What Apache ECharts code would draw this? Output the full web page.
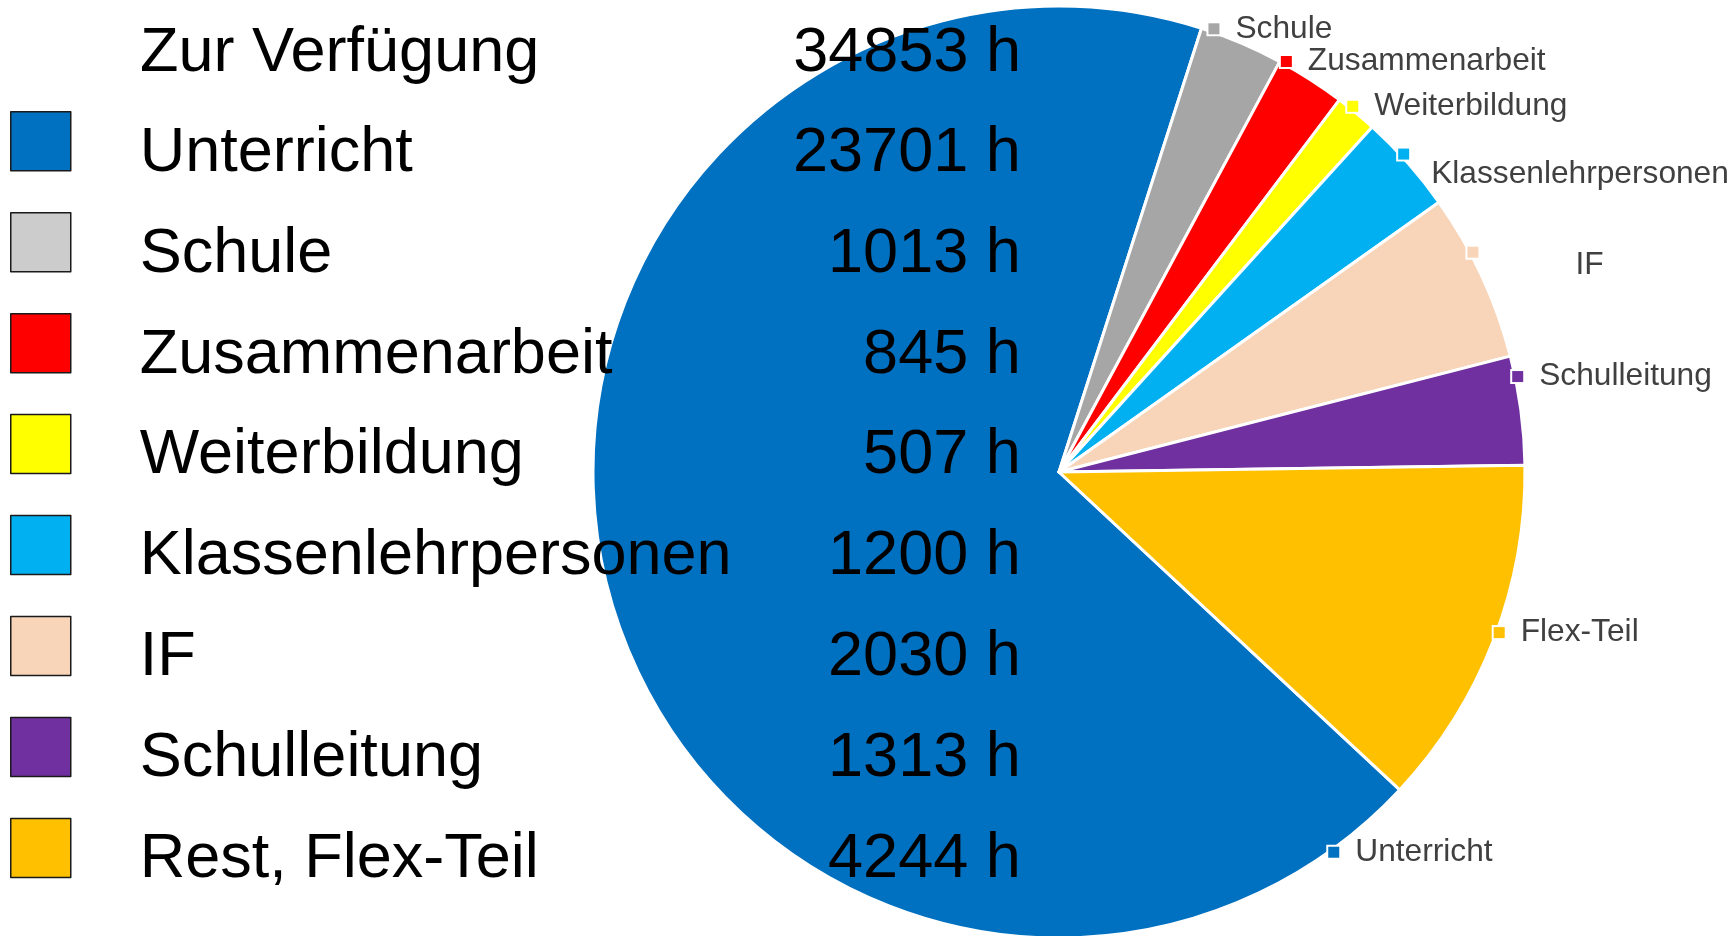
<!DOCTYPE html>
<html>
<head>
<meta charset="utf-8">
<script src="https://cdn.jsdelivr.net/npm/echarts@6/dist/echarts.min.js"></script>
<style>
  html, body { margin: 0; padding: 0; background: #fff; }
  #chart { width: 1733px; height: 936px; }
</style>
</head>
<body>
<div id="chart"></div>
<script>
  // Legendennamen und Stunden
  const categories = ['Unterricht', 'Schule', 'Zusammenarbeit', 'Weiterbildung', 'Klassenlehrpersonen', 'IF', 'Schulleitung', 'Rest, Flex-Teil'];
  const hours = [23701, 1013, 845, 507, 1200, 2030, 1313, 4244];
  // Beschriftungen am Kuchen
  const labelNames = ['Unterricht', 'Schule', 'Zusammenarbeit', 'Weiterbildung', 'Klassenlehrpersonen', 'IF', 'Schulleitung', 'Flex-Teil'];
  const headerName = 'Zur Verfügung';

  const sliceColors = ['#0070C0', '#A6A6A6', '#FF0000', '#FFFF00', '#00B0F0', '#F8D5B8', '#7030A0', '#FFC000'];
  const legendColors = ['#0070C0', '#CCCCCC', '#FF0000', '#FFFF00', '#00B0F0', '#F8D5B8', '#7030A0', '#FFC000'];

  // Lage der Beschriftungen wie im Original (Drehung in Grad, Abstand, Absenkung in px)
  const labelTurn = [0, -3.6, -3.5, -0.7, -1.0, -3, -4.1, -1.1];
  const labelGap = [16, 16, 16, 16, 22, 97, 16, 16];
  const labelDrop = [0, 0, 0, 0, 20, 13, 0, 0];

  const total = hours.reduce((a, b) => a + b, 0);
  const font = '"Liberation Sans", Arial, sans-serif';
  const center = [1059, 472];
  const radius = 466;
  const startAngle = -43;   // echarts: Grad ab 3 Uhr, gegen den Uhrzeigersinn

  let rich = {};
  sliceColors.forEach((c, i) => {
    rich['m' + i] = { width: 11, height: 11, backgroundColor: c, borderColor: '#fff', borderWidth: 2 };
    rich['t' + i] = {
      color: '#404040', fontSize: 31.7, fontFamily: font,
      padding: [labelDrop[i] * 2, 0, 0, labelGap[i]]
    };
  });

  const legendRich = {
    pad: { width: 64 },
    n: { width: 600, fontSize: 63, fontFamily: font, fontWeight: 'normal', color: '#000', lineHeight: 60 },
    v: { width: 281, fontSize: 63, fontFamily: font, fontWeight: 'normal', color: '#000', lineHeight: 60, align: 'right' }
  };

  // Winkel (Uhr, Grad) der Sektormitte
  function midClock(idx) {
    let before = 0;
    for (let k = 0; k < idx; k++) before += hours[k];
    return 90 - startAngle + (before + hours[idx] / 2) / total * 360;
  }

  let myChart = echarts.init(document.getElementById('chart'));
  let option = {
    backgroundColor: '#fff',
    animation: false,
    title: {
      text: '{n|' + headerName + '}{v|' + total + ' h}',
      left: 140,
      top: 24,
      padding: 0,
      textStyle: { rich: legendRich }
    },
    legend: {
      orient: 'vertical',
      left: 10,
      top: 111,
      padding: 0,
      itemWidth: 60,
      itemHeight: 59,
      itemGap: 27.2,
      selectedMode: false,
      icon: 'rect',
      itemStyle: { borderColor: '#1a1a1a', borderWidth: 1.5 },
      data: categories.map((name, i) => ({
        name: name,
        itemStyle: { color: legendColors[i] }
      })),
      formatter: function (name) {
        let i = categories.indexOf(name);
        return '{pad|}{n|' + name + '}{v|' + hours[i] + ' h}';
      },
      textStyle: { rich: legendRich, padding: [24, 0, 0, 0] }
    },
    series: [{
      type: 'pie',
      center: center,
      radius: radius,
      startAngle: startAngle,
      clockwise: true,
      avoidLabelOverlap: false,
      itemStyle: { borderColor: '#fff', borderWidth: 3 },
      label: {
        show: true,
        position: 'outside',
        formatter: function (p) {
          let i = p.dataIndex;
          return '{m' + i + '|}{t' + i + '|' + labelNames[i] + '}';
        },
        rich: rich
      },
      labelLine: { show: false, length: 0, length2: 0 },
      labelLayout: function (params) {
        // Unterricht-Beschriftung sitzt im Original unten rechts
        let i = params.dataIndex;
        let deg = i === 0 ? 144 : midClock(i) + labelTurn[i];
        let a = deg * Math.PI / 180;
        let r = radius + 4;
        return {
          x: center[0] + r * Math.sin(a) - 7,
          y: center[1] - r * Math.cos(a),
          align: 'left',
          verticalAlign: 'middle'
        };
      },
      data: categories.map((name, i) => ({
        name: name,
        value: hours[i],
        itemStyle: { color: sliceColors[i] }
      }))
    }]
  };
  myChart.setOption(option);
</script>
</body>
</html>
